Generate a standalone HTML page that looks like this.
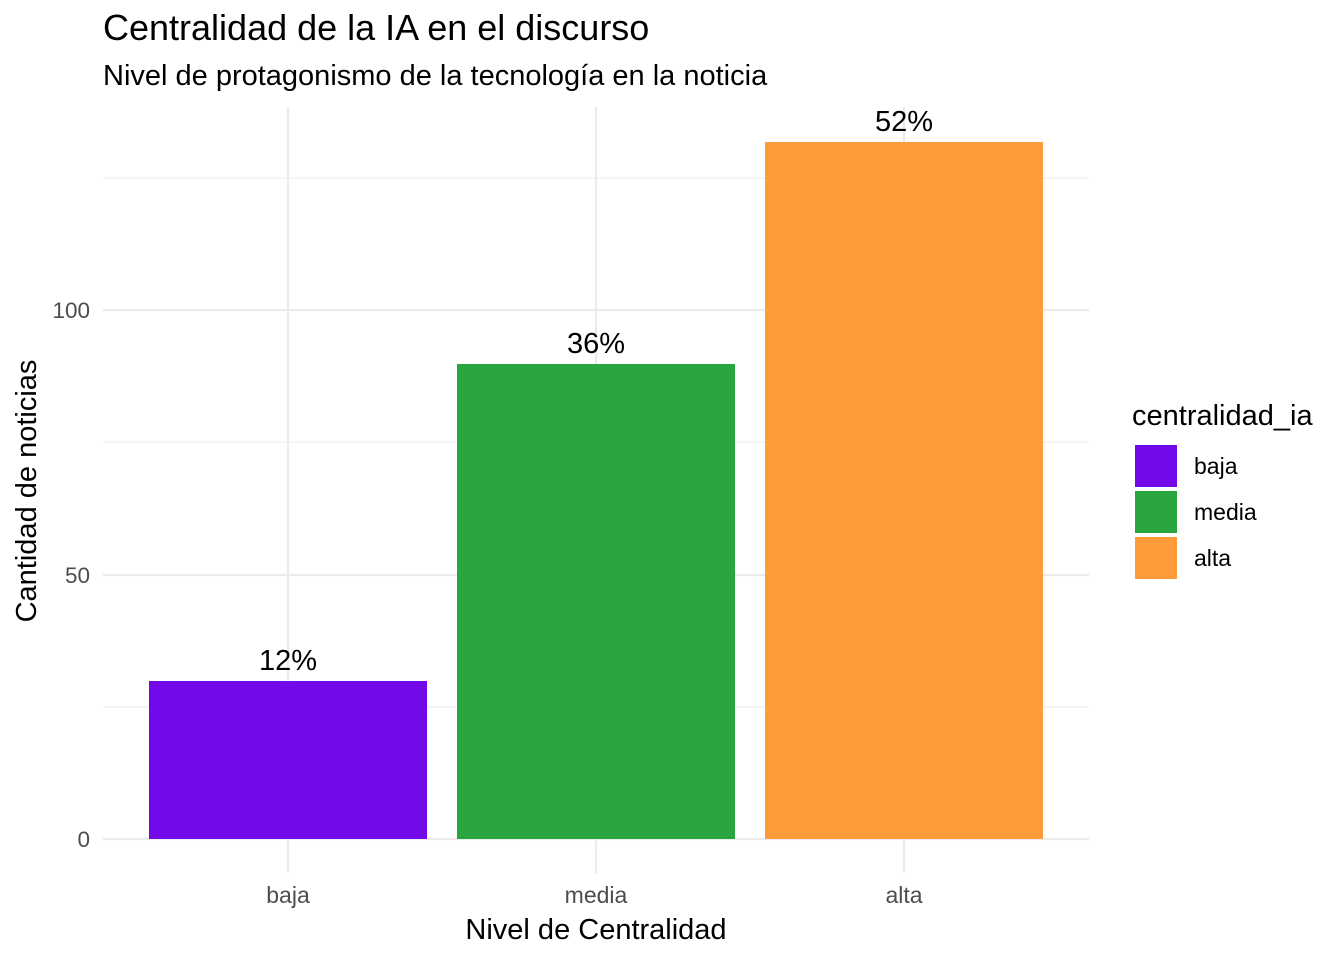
<!DOCTYPE html>
<html><head><meta charset="utf-8"><style>body{margin:0;background:#fff}svg{display:block}</style></head>
<body>
<svg width="1344" height="960" xmlns="http://www.w3.org/2000/svg" font-family="Liberation Sans, sans-serif">
<rect width="1344" height="960" fill="#fff"/>
<g stroke="#ebebeb" stroke-width="1.1">
<line x1="103" x2="1089" y1="707" y2="707"/>
<line x1="103" x2="1089" y1="442" y2="442"/>
<line x1="103" x2="1089" y1="178" y2="178"/>
</g>
<g stroke="#ebebeb" stroke-width="2.2">
<line x1="103" x2="1089" y1="839" y2="839"/>
<line x1="103" x2="1089" y1="575" y2="575"/>
<line x1="103" x2="1089" y1="310" y2="310"/>
<line x1="288" x2="288" y1="107" y2="873"/>
<line x1="596" x2="596" y1="107" y2="873"/>
<line x1="904" x2="904" y1="107" y2="873"/>
</g>
<rect x="149" y="681" width="278" height="158" fill="#7209E8"/>
<rect x="457" y="364" width="278" height="475" fill="#2AA640"/>
<rect x="765" y="142" width="278" height="697" fill="#FF9B3A"/>
<g font-size="29" text-anchor="middle" fill="#000">
<text x="288" y="670">12%</text>
<text x="596" y="353">36%</text>
<text x="904" y="131">52%</text>
</g>
<g font-size="22.5" fill="#4d4d4d" text-anchor="end">
<text x="90" y="847">0</text>
<text x="90" y="583">50</text>
<text x="90" y="318">100</text>
</g>
<g font-size="23" fill="#4d4d4d" text-anchor="middle">
<text x="288" y="903">baja</text>
<text x="596" y="903">media</text>
<text x="904" y="903">alta</text>
</g>
<text x="596" y="939" font-size="29" text-anchor="middle">Nivel de Centralidad</text>
<text transform="translate(36,491) rotate(-90)" font-size="29" text-anchor="middle">Cantidad de noticias</text>
<text x="103" y="40" font-size="36">Centralidad de la IA en el discurso</text>
<text x="103" y="85" font-size="29">Nivel de protagonismo de la tecnología en la noticia</text>
<text x="1132" y="425" font-size="29">centralidad_ia</text>
<rect x="1135" y="445" width="42" height="42" fill="#7209E8"/>
<rect x="1135" y="491" width="42" height="42" fill="#2AA640"/>
<rect x="1135" y="537" width="42" height="42" fill="#FF9B3A"/>
<g font-size="23">
<text x="1194" y="474">baja</text>
<text x="1194" y="520">media</text>
<text x="1194" y="566">alta</text>
</g>
</svg>
</body></html>
